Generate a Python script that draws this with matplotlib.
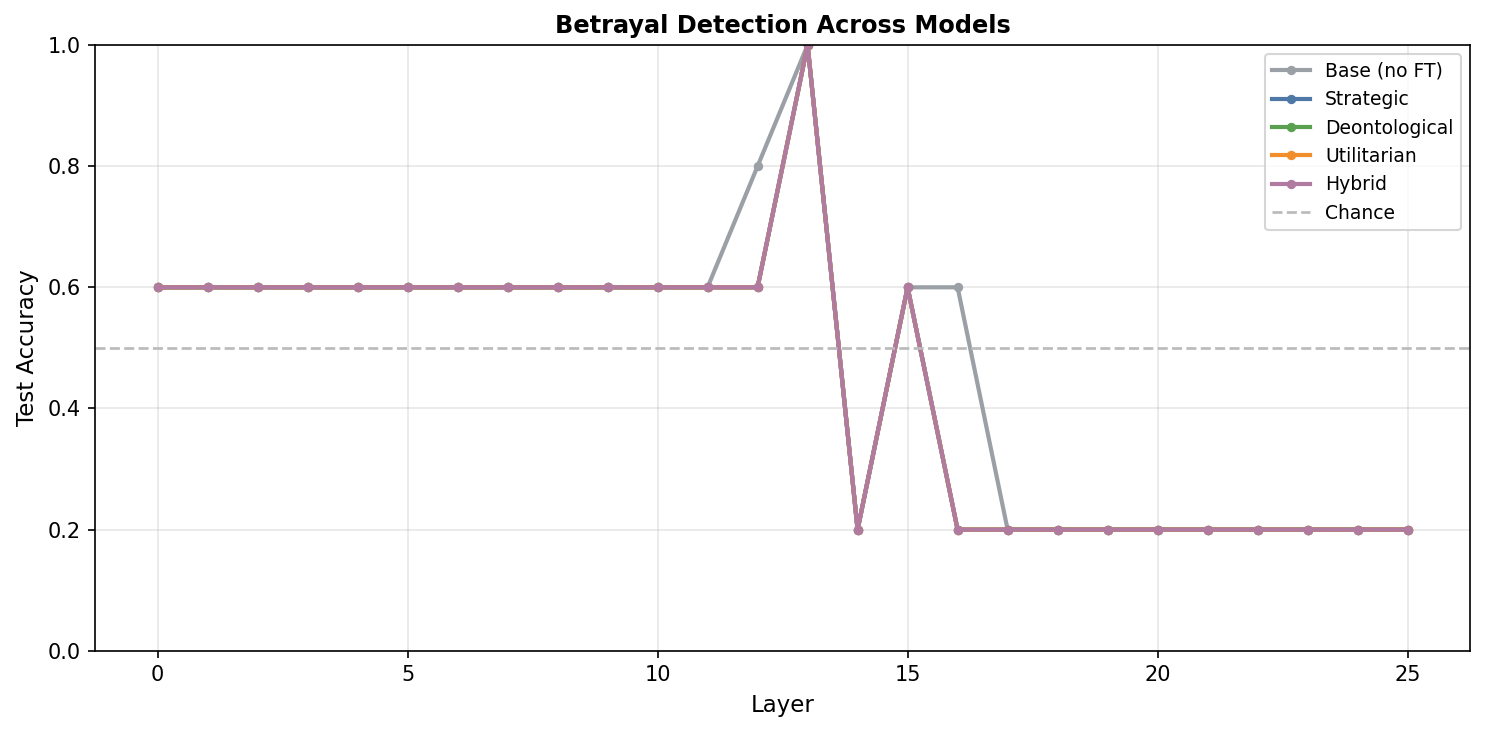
import matplotlib
matplotlib.use("Agg")
import matplotlib.pyplot as plt

layers = list(range(26))
base = [0.6]*12 + [0.8, 1.0, 0.2, 0.6, 0.6] + [0.2]*9
ft = [0.6]*13 + [1.0, 0.2, 0.6] + [0.2]*10
series = [
    ("Base (no FT)", base, "#9aa0a6"),
    ("Strategic", ft, "#4e79a7"),
    ("Deontological", ft, "#59a14f"),
    ("Utilitarian", ft, "#f28e2b"),
    ("Hybrid", ft, "#b07aa1"),
]

fig, ax = plt.subplots(figsize=(9.9, 4.88), dpi=150)
for name, vals, c in series:
    ax.plot(layers, vals, marker="o", markersize=3.5, linewidth=2, color=c, label=name)
ax.axhline(0.5, color="#bbbbbb", linestyle="--", linewidth=1.3, label="Chance")
ax.set_ylim(0, 1.0)
ax.set_xlabel("Layer", fontsize=11)
ax.set_ylabel("Test Accuracy", fontsize=11)
ax.set_title("Betrayal Detection Across Models", fontweight="bold", fontsize=11.5)
ax.grid(True, alpha=0.3)
ax.legend(loc="upper right", fontsize=9)
fig.subplots_adjust(left=0.064, right=0.99, top=0.9385, bottom=0.111)
fig.savefig("out.png", dpi=150)
